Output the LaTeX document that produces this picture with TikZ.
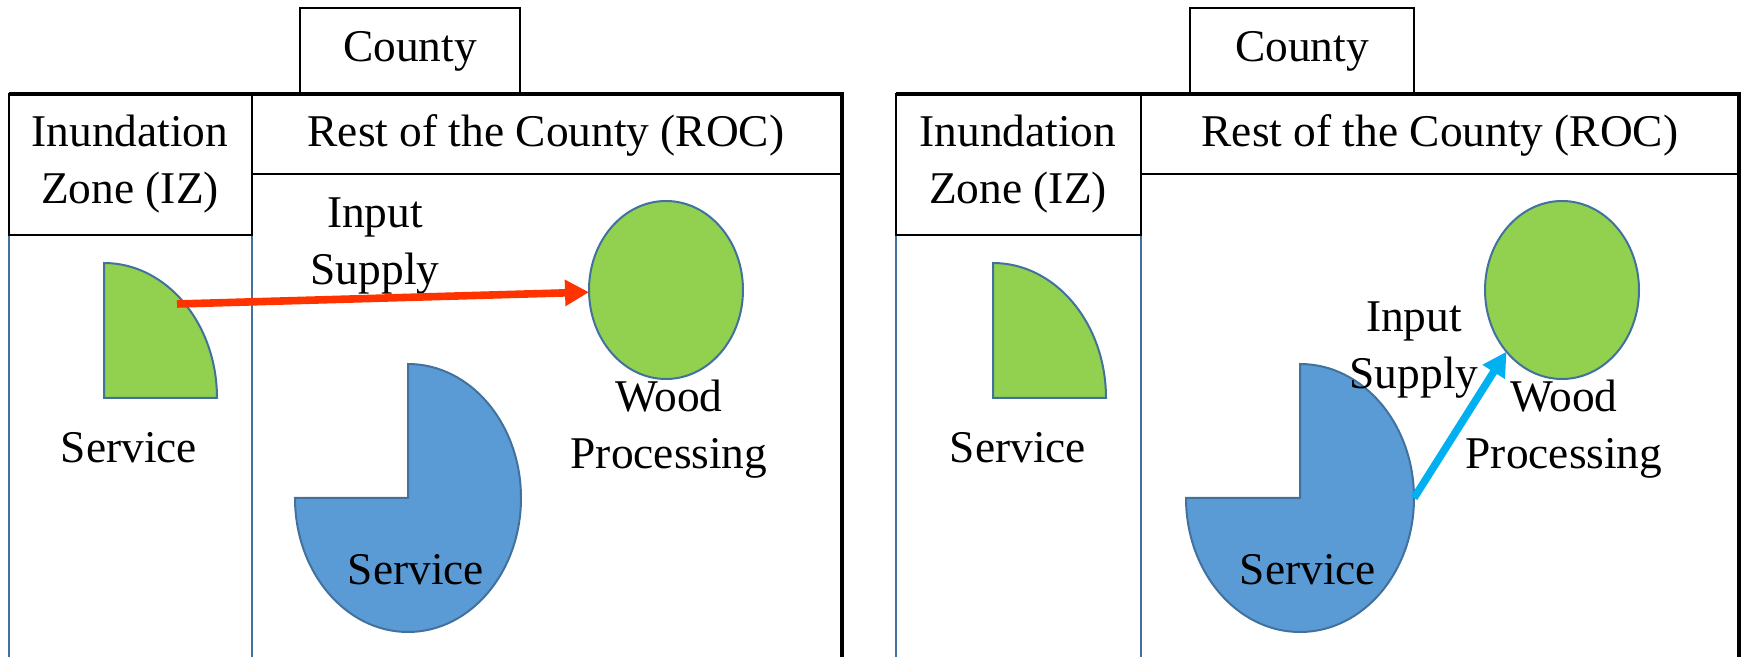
\documentclass[tikz,border=0pt]{standalone}
\usepackage{fontspec}
\setmainfont{Liberation Serif}
\usetikzlibrary{shapes.geometric,arrows.meta}
\definecolor{shapegreen}{HTML}{92D050}
\definecolor{shapeblue}{HTML}{5B9BD5}
\definecolor{edgeblue}{HTML}{41719C}
\definecolor{arrowred}{HTML}{FF3300}
\definecolor{arrowcyan}{HTML}{00B0F0}
\begin{document}
\begin{tikzpicture}[x=0.5pt,y=-0.5pt,
  lbl/.style={font=\fontsize{22.7}{28.5}\selectfont, align=center, inner sep=0pt},
  hdr/.style={draw=black, line width=1pt},
  frametop/.style={draw=black, line width=1.6pt},
  zoneline/.style={draw=edgeblue, line width=1.2pt},
  greenshape/.style={fill=shapegreen, draw=edgeblue, line width=1pt},
  blueshape/.style={fill=shapeblue, draw=edgeblue, line width=1pt},
  woodnode/.style={ellipse, fill=shapegreen, draw=edgeblue, line width=1pt,
     minimum width=77pt, minimum height=89pt, inner sep=0pt, outer sep=0pt},
  flow/.style={line width=3.8pt, -{Triangle[length=12pt,width=12.5pt]}}
]
\useasboundingbox (0,0) rectangle (1742,657);
\clip (0,0) rectangle (1742,657);

% ---------------- left panel ----------------
\draw[hdr] (300,8) rectangle (520,94);
\draw[zoneline] (9,94) -- (9,660);
\draw[zoneline] (252,235) -- (252,660);
\draw[frametop] (9,94) -- (842,94) -- (842,660);
\draw[hdr] (9,94) rectangle (252,235);
\draw[hdr] (252,94) rectangle (842,174);

\draw[greenshape] (104,398) -- (104,263)
   arc[start angle=270, end angle=360, x radius=113, y radius=135] -- cycle;
\draw[blueshape] (408,498) -- (408,364)
   arc[start angle=-90, end angle=180, x radius=113, y radius=134] -- cycle;
\node[woodnode] (wood1) at (666,290) {};

\node[lbl] (county1) at (410,51) {County};
\node[lbl] (iz1) at (130,164) {Inundation\\Zone (IZ)};
\node[lbl] (roc1) at (546,135) {Rest of the County (ROC)};
\node[lbl] (input1) at (375,246) {Input\\Supply};
\node[lbl] (woodlbl1) at (669,429) {Wood\\Processing};
\node[lbl] (servA1) at (129,448) {Service};
\node[lbl] (servB1) at (416,570) {Service};

\coordinate (src1) at (177,304);
\draw[flow, draw=arrowred] (src1) -- (wood1);

% ---------------- right panel ----------------
\draw[hdr] (1190,8) rectangle (1414,94);
\draw[zoneline] (896,94) -- (896,660);
\draw[zoneline] (1141,235) -- (1141,660);
\draw[frametop] (896,94) -- (1739,94) -- (1739,660);
\draw[hdr] (896,94) rectangle (1141,235);
\draw[hdr] (1141,94) rectangle (1739,174);

\draw[greenshape] (993,398) -- (993,263)
   arc[start angle=270, end angle=360, x radius=113, y radius=135] -- cycle;
\draw[blueshape] (1300,498) -- (1300,364)
   arc[start angle=-90, end angle=180, x radius=114, y radius=134] -- cycle;
\node[woodnode] (wood2) at (1562,290) {};

\node[lbl] (county2) at (1302,51) {County};
\node[lbl] (iz2) at (1018,164) {Inundation\\Zone (IZ)};
\node[lbl] (roc2) at (1440,135) {Rest of the County (ROC)};
\node[lbl] (input2) at (1414,350) {Input\\Supply};
\node[lbl] (woodlbl2) at (1564,429) {Wood\\Processing};
\node[lbl] (servA2) at (1018,448) {Service};
\node[lbl] (servB2) at (1308,570) {Service};

\coordinate (src2) at (1414,498);
\draw[flow, draw=arrowcyan] (src2) -- (wood2.228);
\end{tikzpicture}
\end{document}
